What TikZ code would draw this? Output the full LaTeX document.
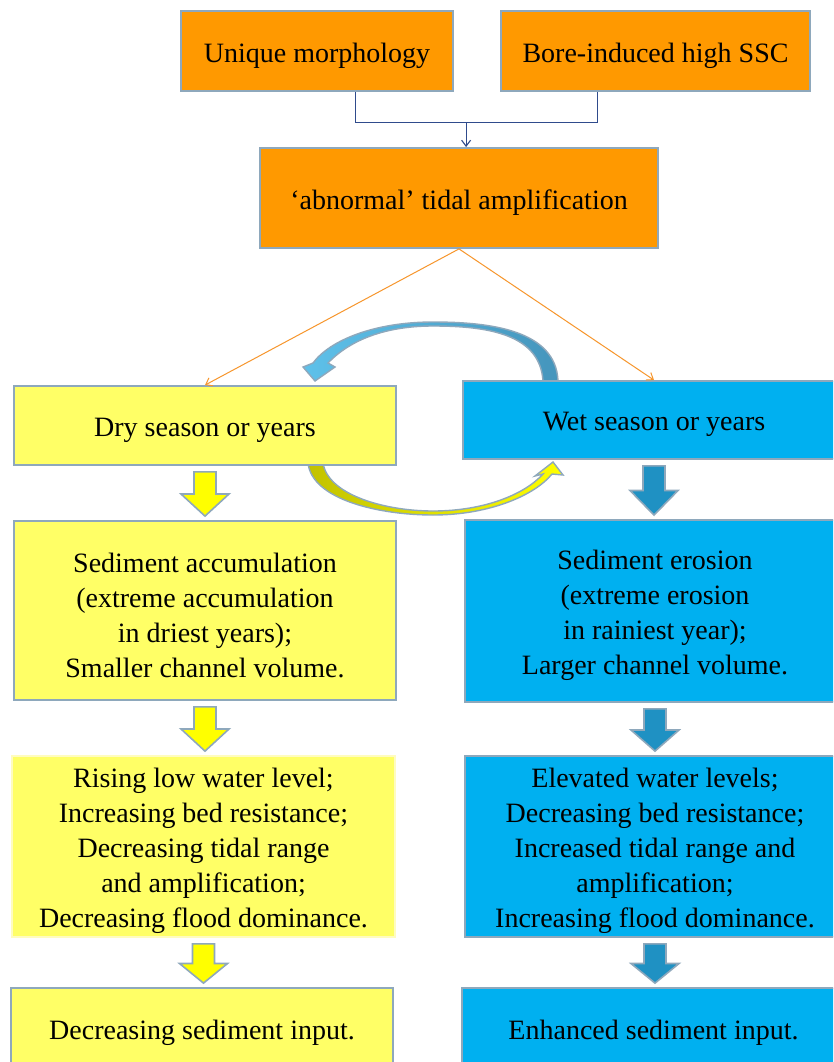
\documentclass[tikz,border=0pt]{standalone}
\usepackage{fontspec}
\setmainfont{Liberation Serif}
\usetikzlibrary{arrows.meta,calc}
\definecolor{orangebox}{HTML}{FF9900}
\definecolor{yelbox}{HTML}{FFFF66}
\definecolor{bluebox}{HTML}{00B0F0}
\definecolor{bordc}{HTML}{8EA8BC}
\definecolor{yelarr}{HTML}{FFFF00}
\definecolor{bluearr}{HTML}{1F91C3}
\definecolor{linkc}{HTML}{2F4B8C}
\definecolor{orline}{HTML}{F7962C}
\definecolor{olivec}{HTML}{C2C200}
\definecolor{cblueL}{HTML}{5EC1EA}
\definecolor{cblueD}{HTML}{4595BC}
\tikzset{
  box/.style={draw=bordc, line width=1.8pt, inner sep=0pt},
  txt/.style={align=center, inner sep=0pt, font=\fontsize{28}{35}\selectfont},
  link/.style={draw=linkc, line width=1.1pt},
  orangeline/.style={draw=orline, line width=1pt, -{Straight Barb[length=6pt,width=9pt]}},
  blkstyle/.style={draw=bordc, line width=1.6pt, line join=miter},
}
% #1 name, #2 position, #3 width, #4 height, #5 fill, #6 extra, #7 text
\newcommand\boxnode[7]{%
  \node[box, fill=#5, minimum width=#3, minimum height=#4, #6] (#1) at #2 {};
  \node[txt] (#1-t) at ($(#1.center)+(0,4.5)$) {#7};}
\newcommand\blkarr[3]{%
  \path (#1.south) ++(0,6) coordinate (bt) (#2.north) ++(0,-4) coordinate (bb);
  \filldraw[blkstyle, fill=#3] let \p1=(bt), \p2=(bb) in
    (\x1-11pt,\y1) -- (\x1+11pt,\y1) -- (\x1+11pt,{0.5*(\y1+\y2)}) --
    (\x1+24pt,{0.5*(\y1+\y2)}) -- (\x1,\y2) -- (\x1-24pt,{0.5*(\y1+\y2)}) --
    (\x1-11pt,{0.5*(\y1+\y2)}) -- cycle;}
\begin{document}
\begin{tikzpicture}[x=1pt,y=-1pt]
\clip (0,0) rectangle (833,1062);
\fill[white] (0,0) rectangle (833,1062);

% curved arrows (drawn below the boxes)
\path[draw=bordc, line width=1.4pt, left color=cblueL, right color=cblueD]
  (558,381) .. controls (556,330) and (490,322) .. (433,322)
  .. controls (375,322) and (330,340) .. (313,363)
  -- (303,367) -- (315,381) -- (335,367) -- (328,363)
  .. controls (350,340) and (385,326) .. (433,326)
  .. controls (490,326) and (540,335) .. (543,381) -- cycle;
\path[draw=bordc, line width=1.4pt, left color=olivec, right color=yelarr]
  (308,463) .. controls (312,500) and (380,515) .. (433,515)
  .. controls (490,515) and (535,495) .. (552,474)
  -- (563,475) -- (553,462) -- (535,476) -- (543,474)
  .. controls (525,494) and (485,511) .. (433,511)
  .. controls (385,511) and (328,495) .. (323,463) -- cycle;

% boxes
\boxnode{um}{(317,51)}{272pt}{80pt}{orangebox}{}{Unique morphology}
\boxnode{bore}{(655.5,51)}{309pt}{80pt}{orangebox}{}{Bore-induced high SSC}
\boxnode{abn}{(459,198)}{398pt}{100pt}{orangebox}{}{`abnormal' tidal amplification}

\boxnode{dry}{(205,425.5)}{382pt}{79pt}{yelbox}{}{Dry season or years}
\boxnode{wet}{(654,420)}{382pt}{78pt}{bluebox}{}{Wet season or years}

\boxnode{sedL}{(205,610.5)}{382pt}{179pt}{yelbox}{}%
  {Sediment accumulation\\(extreme accumulation\\in driest years);\\Smaller channel volume.}
\boxnode{sedR}{(655,611)}{380pt}{182pt}{bluebox}{}%
  {Sediment erosion\\(extreme erosion\\in rainiest year);\\Larger channel volume.}

\boxnode{resL}{(203.5,846.5)}{383pt}{181pt}{yelbox}{draw=yellow!25}%
  {Rising low water level;\\Increasing bed resistance;\\Decreasing tidal range\\and amplification;\\Decreasing flood dominance.}
\boxnode{resR}{(655,846.5)}{380pt}{181pt}{bluebox}{}%
  {Elevated water levels;\\Decreasing bed resistance;\\Increased tidal range and\\amplification;\\Increasing flood dominance.}

\boxnode{inL}{(202,1028)}{382pt}{80pt}{yelbox}{}{Decreasing sediment input.}
\boxnode{inR}{(653.5,1028)}{383pt}{80pt}{bluebox}{}{Enhanced sediment input.}

% top connector
\coordinate (ja) at ($(um.south west)!0.64!(um.south east)$);
\coordinate (jb) at ($(bore.south west)!0.314!(bore.south east)$);
\path (ja) ++(0,31) coordinate (ja2);
\path (jb) ++(0,31) coordinate (jb2);
\draw[link] (ja) -- (ja2) -- (jb2) -- (jb);
\coordinate (jm) at ($(ja2)!0.457!(jb2)$);
\draw[link, -{Straight Barb[length=6pt,width=9pt]}] (jm) -- (jm |- abn.north);

% orange links
\draw[orangeline] (abn.south) -- (dry.north);
\draw[orangeline] (abn.south) -- (wet.north);

% block arrows
\blkarr{dry}{sedL}{yelarr}
\blkarr{sedL}{resL}{yelarr}
\blkarr{resL}{inL}{yelarr}
\blkarr{wet}{sedR}{bluearr}
\blkarr{sedR}{resR}{bluearr}
\blkarr{resR}{inR}{bluearr}
\end{tikzpicture}
\end{document}
